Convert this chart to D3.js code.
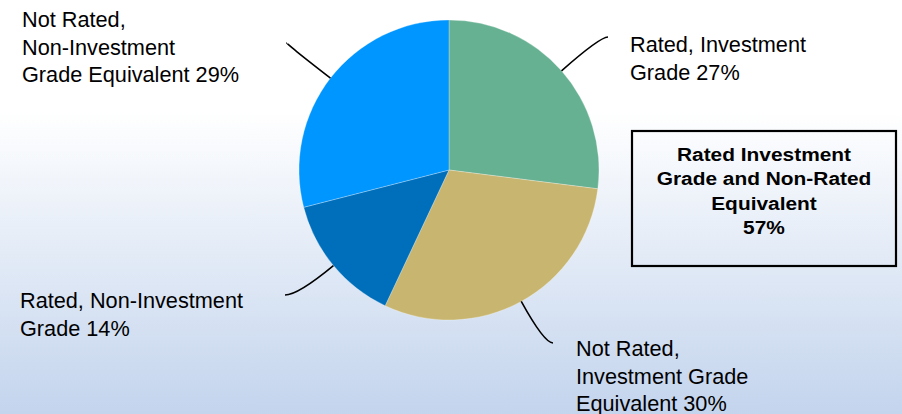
<!DOCTYPE html>
<html>
<head>
<meta charset="utf-8">
<script src="https://cdn.jsdelivr.net/npm/d3@7"></script>
<style>
  html, body { margin: 0; padding: 0; background: #fff; }
  svg { display: block; }
</style>
</head>
<body>
<svg id="chart" width="902" height="414"></svg>
<script>
// Portfolio split by credit quality (percent of total)
const categories = [
  "Rated, Investment Grade",
  "Not Rated, Investment Grade Equivalent",
  "Rated, Non-Investment Grade",
  "Not Rated, Non-Investment Grade Equivalent"
];
const shares = [27, 30, 14, 29];
// Label text per slice; the share is appended to the last line
const labelLines = [
  ["Rated, Investment", "Grade"],
  ["Not Rated,", "Investment Grade", "Equivalent"],
  ["Rated, Non-Investment", "Grade"],
  ["Not Rated,", "Non-Investment", "Grade Equivalent"]
];
const colors = ["#67b193", "#c8b670", "#006fbb", "#0096ff"];
const summaryTitle = ["Rated Investment", "Grade and Non-Rated", "Equivalent"];
const investmentGradeIdx = [0, 1];

// Layout
const W = 902, H = 414;
const cx = 449, cy = 170, R = 150;
const fontFamily = "'Liberation Sans', Arial, Helvetica, sans-serif";
const lineH = 27.7;
// leader end point and text anchor for each slice
const labelLayout = [
  { end: [608, 37],  tx: 630, ty: 52 },
  { end: [553, 343], tx: 576, ty: 356 },
  { end: [285, 295], tx: 20,  ty: 308 },
  { end: [287, 43],  tx: 22,  ty: 27 }
];

const svg = d3.select("#chart");

// slide-style background: white fading to pale blue
const defs = svg.append("defs");
const grad = defs.append("linearGradient")
  .attr("id", "bg").attr("x1", 0).attr("y1", 0).attr("x2", 0).attr("y2", 1);
grad.append("stop").attr("offset", 0).attr("stop-color", "#ffffff");
grad.append("stop").attr("offset", 0.27).attr("stop-color", "#ffffff");
grad.append("stop").attr("offset", 1).attr("stop-color", "#c3d4ed");
svg.append("rect").attr("width", W).attr("height", H).attr("fill", "url(#bg)");

const data = categories.map((c, i) => ({ name: c, value: shares[i], i }));
const pie = d3.pie().sort(null).value(d => d.value).startAngle(0).endAngle(2 * Math.PI);
const arcs = pie(data);
const arc = d3.arc().innerRadius(0).outerRadius(R);

const g = svg.append("g").attr("transform", `translate(${cx},${cy})`);
g.selectAll("path.slice")
  .data(arcs)
  .join("path")
  .attr("class", "slice")
  .attr("d", arc)
  .attr("fill", d => colors[d.data.i])
  .attr("stroke", "rgba(255,255,255,0.45)")
  .attr("stroke-width", 0.6);

// curved leader lines: leave the rim radially, finish horizontally
const leaders = svg.append("g");
arcs.forEach(a => {
  const mid = (a.startAngle + a.endAngle) / 2;
  const dx = Math.sin(mid), dy = -Math.cos(mid);
  const sx = cx + R * dx, sy = cy + R * dy;
  const [ex, ey] = labelLayout[a.data.i].end;
  const t = Math.abs(dy) > 0.05 ? (ey - sy) / dy : 40;
  const ctlx = sx + dx * t, ctly = sy + dy * t;
  const p = d3.path();
  p.moveTo(sx, sy);
  p.quadraticCurveTo(ctlx, ctly, ex, ey);
  leaders.append("path")
    .attr("d", p.toString())
    .attr("fill", "none")
    .attr("stroke", "#000")
    .attr("stroke-width", 1.6);
});

// slice labels
const labels = svg.append("g")
  .attr("font-family", fontFamily)
  .attr("font-size", 21.7)
  .attr("fill", "#000");
arcs.forEach(a => {
  const i = a.data.i;
  const L = labelLayout[i];
  const lines = labelLines[i].slice();
  lines[lines.length - 1] += " " + a.data.value + "%";
  const txt = labels.append("text").attr("x", L.tx).attr("y", L.ty);
  lines.forEach((ln, k) => {
    txt.append("tspan").attr("x", L.tx).attr("y", L.ty + k * lineH).text(ln);
  });
});

// summary box
const total = d3.sum(investmentGradeIdx, i => shares[i]);
const box = { x: 632, y: 131, w: 264, h: 135 };
svg.append("rect")
  .attr("x", box.x).attr("y", box.y)
  .attr("width", box.w).attr("height", box.h)
  .attr("fill", "none")
  .attr("stroke", "#000")
  .attr("stroke-width", 2.2);
const boxCx = box.x + box.w / 2;
const summary = svg.append("g")
  .attr("transform", `translate(${boxCx},0) scale(1.13,1)`)
  .append("text")
  .attr("font-family", fontFamily)
  .attr("font-size", 18.5)
  .attr("font-weight", "bold")
  .attr("text-anchor", "middle")
  .attr("fill", "#000");
summaryTitle.concat([total + "%"]).forEach((ln, k) => {
  summary.append("tspan").attr("x", 0).attr("y", 161 + k * 24.5).text(ln);
});
</script>
</body>
</html>
